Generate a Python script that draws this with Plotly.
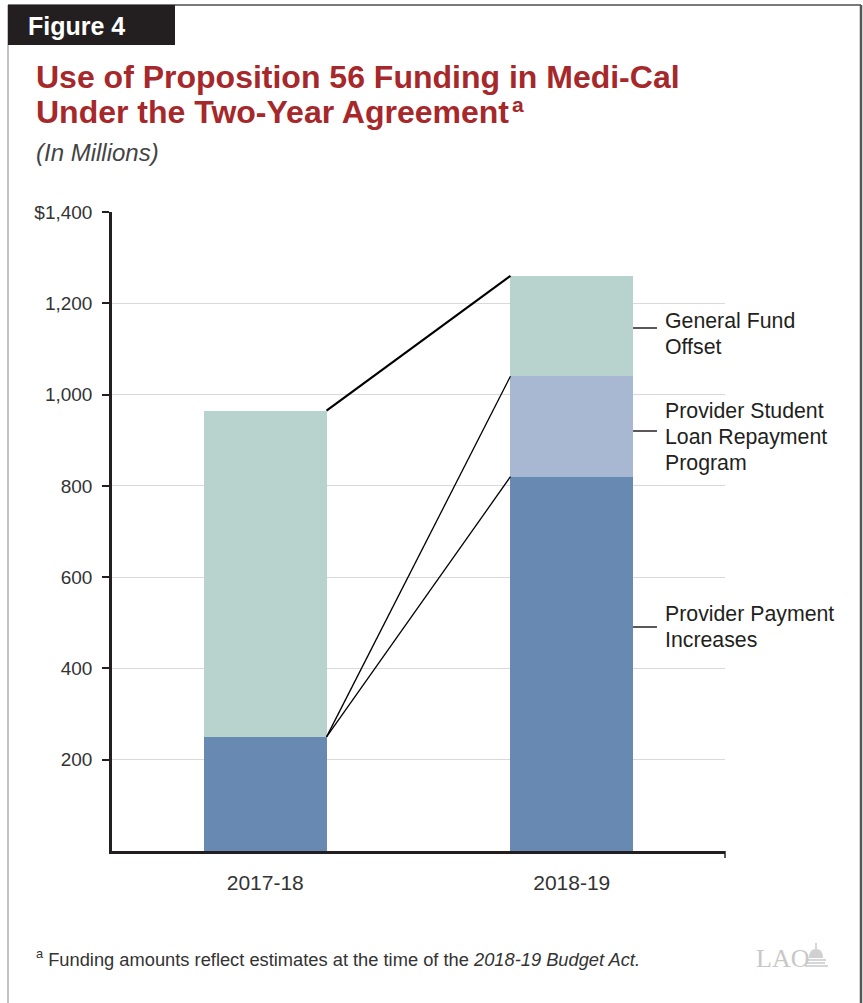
import plotly.graph_objects as go

# Proposition 56 funding in Medi-Cal (in millions)
years = ["2017-18", "2018-19"]
provider_payment = [250, 820]
student_loan = [0, 220]
gf_offset = [715, 220]

series_names = ["Provider Payment Increases", "Provider Student Loan Repayment Program", "General Fund Offset"]
series_label_lines = [["Provider Payment", "Increases"],
                      ["Provider Student", "Loan Repayment", "Program"],
                      ["General Fund", "Offset"]]
series_colors = ["#6889b2", "#a8b8d3", "#b8d3ce"]

y_ticks = [200, 400, 600, 800, 1000, 1200, 1400]
y_ticktext = ["200", "400", "600", "800", "1,000", "1,200", "$1,400"]

W, H = 863, 1003
ML, MR, MT, MB = 112, 138, 212, 152
PW, PH = W - ML - MR, H - MT - MB

def px(xp):
    return (xp - ML) / PW

def py(yp):
    return (H - MB - yp) / PH

FONT = "Liberation Sans, Arial, sans-serif"
INK = "#231f20"
TITLE_RED = "#a6282b"

xs = [0, 1]
BAR_W = 0.4

fig = go.Figure()
for vals, name, color in zip([provider_payment, student_loan, gf_offset], series_names, series_colors):
    fig.add_trace(go.Bar(x=xs, y=vals, name=name, marker=dict(color=color, line=dict(width=0)),
                         width=BAR_W, showlegend=False, hoverinfo="skip"))

# connector lines between the two stacks
tot17 = provider_payment[0] + student_loan[0] + gf_offset[0]
tot18 = provider_payment[1] + student_loan[1] + gf_offset[1]
left_edge = xs[0] + BAR_W / 2
right_edge = xs[1] - BAR_W / 2
fig.add_trace(go.Scatter(x=[left_edge, right_edge], y=[tot17, tot18], mode="lines",
                         line=dict(color="black", width=2.2), showlegend=False, hoverinfo="skip"))
for target in [provider_payment[1] + student_loan[1], provider_payment[1]]:
    fig.add_trace(go.Scatter(x=[left_edge, right_edge], y=[provider_payment[0], target], mode="lines",
                             line=dict(color="black", width=1.3), showlegend=False, hoverinfo="skip"))

shapes = []
annotations = []

# label leader ticks and text to the right of the 2018-19 stack (pixel rows)
label_line_px = [627, 431, 328]
label_first_line_px = [614, 411, 321]
LINE_GAP = 26
bar_right = xs[1] + BAR_W / 2
for lines, lp, fp in zip(series_label_lines, label_line_px, label_first_line_px):
    shapes.append(dict(type="line", xref="x", yref="paper", x0=bar_right, x1=bar_right + 0.078,
                       y0=py(lp), y1=py(lp), line=dict(color=INK, width=1.5)))
    for i, line in enumerate(lines):
        annotations.append(dict(xref="paper", yref="paper", x=px(663), y=py(fp + i * LINE_GAP), text=line,
                                showarrow=False, xanchor="left", yanchor="middle", align="left",
                                font=dict(family=FONT, size=21.3, color=INK)))

# small tick at the right end of the x axis
shapes.append(dict(type="line", xref="paper", yref="paper", x0=1, x1=1, y0=0, y1=py(858),
                   line=dict(color=INK, width=1.5)))

# figure frame
shapes.append(dict(type="line", xref="paper", yref="paper", x0=px(8), x1=px(861), y0=py(5), y1=py(5),
                   line=dict(color="#7a7a7a", width=2)))
shapes.append(dict(type="line", xref="paper", yref="paper", x0=px(8), x1=px(8), y0=py(5), y1=py(1010),
                   line=dict(color="#9a9a9a", width=1.2)))
shapes.append(dict(type="line", xref="paper", yref="paper", x0=px(861), x1=px(861), y0=py(5), y1=py(1010),
                   line=dict(color="#555555", width=2.5)))
# "Figure 4" tab
shapes.append(dict(type="rect", xref="paper", yref="paper", x0=px(8), x1=px(175), y0=py(45), y1=py(5),
                   fillcolor=INK, line=dict(width=0)))
annotations.append(dict(xref="paper", yref="paper", x=px(26), y=py(26), text="<b>Figure 4</b>",
                        showarrow=False, xanchor="left", yanchor="middle",
                        font=dict(family=FONT, size=25, color="white")))

# title (two lines, footnote marker set separately) and subtitle
title_lines = ["<b>Use of Proposition 56 Funding in Medi-Cal</b>",
               "<b>Under the Two-Year Agreement</b>"]
for i, t in enumerate(title_lines):
    annotations.append(dict(xref="paper", yref="paper", x=px(34), y=py(77 + 35 * i), text=t,
                            showarrow=False, xanchor="left", yanchor="middle", align="left",
                            font=dict(family=FONT, size=32, color=TITLE_RED)))
annotations.append(dict(xref="paper", yref="paper", x=px(510), y=py(104), text="<b>a</b>",
                        showarrow=False, xanchor="left", yanchor="middle",
                        font=dict(family=FONT, size=21, color=TITLE_RED)))
annotations.append(dict(xref="paper", yref="paper", x=px(34), y=py(152), text="<i>(In Millions)</i>",
                        showarrow=False, xanchor="left", yanchor="middle",
                        font=dict(family=FONT, size=24, color="#444444")))

# footnote and logo
annotations.append(dict(xref="paper", yref="paper", x=px(34), y=py(958),
                        text="<sup>a</sup> Funding amounts reflect estimates at the time of the <i>2018-19 Budget Act.</i>",
                        showarrow=False, xanchor="left", yanchor="middle",
                        font=dict(family=FONT, size=18.3, color="#333333")))
annotations.append(dict(xref="paper", yref="paper", x=px(754), y=py(958), text="LAO",
                        showarrow=False, xanchor="left", yanchor="middle",
                        font=dict(family="Liberation Serif, serif", size=26, color="#c8c8c8")))
# small capitol dome beside the logo letters
def P(xp, yp):
    return f"{px(xp):.5f},{py(yp):.5f}"
dome = ("M " + P(809, 958) + " Q " + P(809, 949) + " " + P(816, 949) + " Q " + P(823, 949) + " " + P(823, 958) + " Z")
shapes.append(dict(type="path", xref="paper", yref="paper", path=dome, fillcolor="#d0d0d0", line=dict(width=0)))
for x0, x1, yy in [(806, 826, 960), (805, 828, 966), (807, 825, 963)]:
    shapes.append(dict(type="line", xref="paper", yref="paper", x0=px(x0), x1=px(x1), y0=py(yy), y1=py(yy),
                       line=dict(color="#c8c8c8", width=1.5)))
shapes.append(dict(type="line", xref="paper", yref="paper", x0=px(816), x1=px(816), y0=py(949), y1=py(943),
                   line=dict(color="#c8c8c8", width=1.5)))

fig.update_layout(
    width=W, height=H,
    margin=dict(l=ML, r=MR, t=MT, b=MB, autoexpand=False),
    barmode="stack", bargap=0,
    plot_bgcolor="white", paper_bgcolor="white",
    shapes=shapes, annotations=annotations,
    xaxis=dict(range=[-0.5, 1.5], tickvals=xs, ticktext=years, showgrid=False, zeroline=False,
               showline=True, linecolor=INK, linewidth=2.5, ticks="", ticklabelstandoff=11,
               tickfont=dict(family=FONT, size=21, color="#333333"), fixedrange=True),
    yaxis=dict(range=[0, 1400], tickvals=y_ticks, ticktext=y_ticktext, showgrid=True,
               gridcolor="#d9d9d9", gridwidth=1.2, zeroline=False, showline=True, linecolor=INK,
               linewidth=2.5, ticks="outside", ticklen=7, tickwidth=2, tickcolor=INK,
               ticklabelstandoff=6, tickfont=dict(family=FONT, size=19, color="#333333"),
               fixedrange=True),
)

fig.write_html("out.html")
